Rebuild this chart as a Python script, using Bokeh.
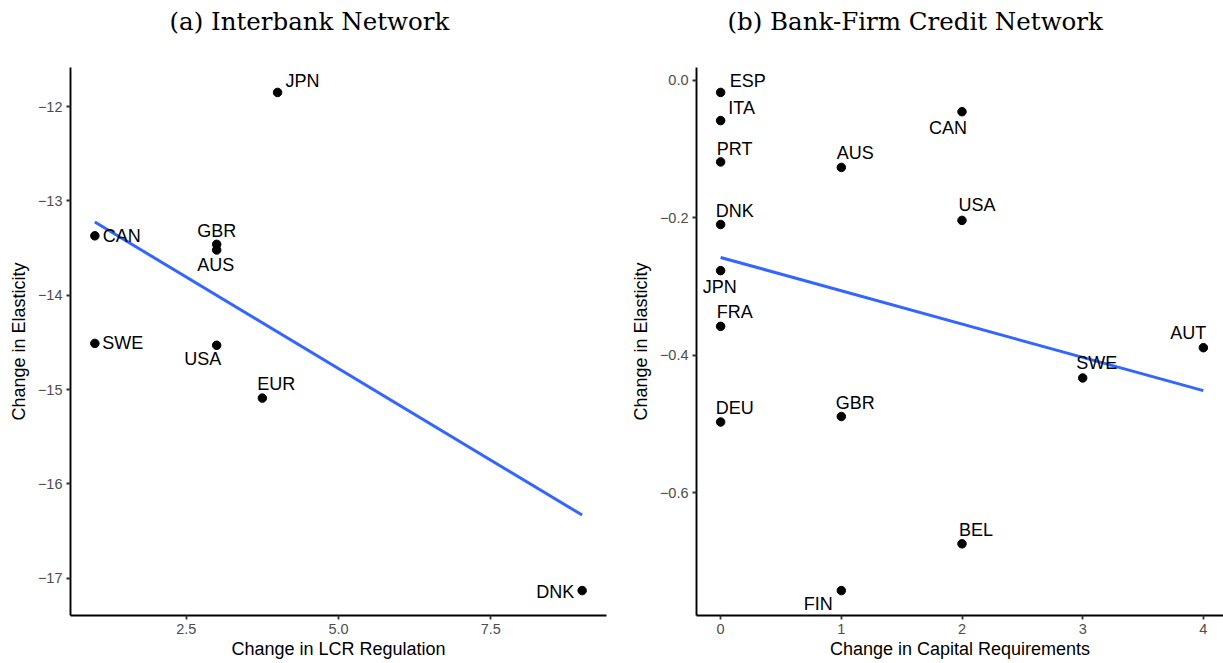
import numpy as np
from bokeh.plotting import figure
from bokeh.layouts import row
from bokeh.models import (ColumnDataSource, Range1d, FixedTicker,
                          CustomJSTickFormatter, Title)
from bokeh.embed import file_html
from bokeh.resources import INLINE
from bokeh.core.properties import value

# ---- (a) Interbank network -------------------------------------------------
ib_country = ["JPN", "CAN", "GBR", "AUS", "SWE", "USA", "EUR", "DNK"]
ib_lcr_change = [4, 1, 3, 3, 1, 3, 3.75, 9]
ib_elasticity = [-11.85, -13.37, -13.46, -13.52, -14.51, -14.53, -15.09, -17.13]

# ---- (b) Bank-firm credit network -----------------------------------------
bf_country = ["ESP", "ITA", "PRT", "AUS", "DNK", "JPN", "FRA", "CAN",
              "USA", "AUT", "SWE", "DEU", "GBR", "BEL", "FIN"]
bf_cap_change = [0, 0, 0, 1, 0, 0, 0, 2, 2, 4, 3, 0, 1, 2, 1]
bf_elasticity = [-0.018, -0.059, -0.119, -0.127, -0.210, -0.277, -0.358, -0.046,
                 -0.204, -0.389, -0.433, -0.497, -0.489, -0.674, -0.742]

# tick positions
ib_xticks = [2.5, 5.0, 7.5]
ib_yticks = [-17, -16, -15, -14, -13, -12]
bf_xticks = [0, 1, 2, 3, 4]
bf_yticks = [-0.6, -0.4, -0.2, 0.0]

# label nudges in screen pixels (dx right, dy down), repelled away from points
ib_nudge = {"JPN": (25, -11), "CAN": (27, 0), "GBR": (0, -13), "AUS": (-1, 15),
            "SWE": (28, 0), "USA": (-14, 14), "EUR": (14, -14), "DNK": (-27, 1)}
bf_nudge = {"ESP": (27, -11), "ITA": (21, -13), "PRT": (14, -13), "AUS": (14, -14),
            "DNK": (14, -14), "JPN": (-1, 16), "FRA": (14, -14), "CAN": (-14, 16),
            "USA": (15, -15), "AUT": (-15, -15), "SWE": (14, -15), "DEU": (14, -14),
            "GBR": (14, -14), "BEL": (14, -14), "FIN": (-23, 13)}

SANS = "Liberation Sans"
SERIF = "DejaVu Serif"
FIG_H = 663
TOP, BOTTOM = 67, 48


def fmt(dec):
    return CustomJSTickFormatter(
        code="return tick.toFixed(%d).replace('-', '\u2212');" % dec)


def panel(countries, xs, ys, nudge, xticks, yticks, xdec, ydec, xlabel,
          title, width, bl, br, title_offset, keep_frac=1.0):
    xs = np.asarray(xs, float)
    ys = np.asarray(ys, float)
    xpad = 0.05 * (xs.max() - xs.min())
    ypad = 0.05 * (ys.max() - ys.min())
    x0, x1 = xs.min() - xpad, xs.max() + xpad
    x1 = x0 + (x1 - x0) * keep_frac

    p = figure(width=width, height=FIG_H, output_backend="svg",
               toolbar_location=None, tools="",
               x_range=Range1d(x0, x1),
               y_range=Range1d(ys.min() - ypad, ys.max() + ypad),
               min_border_left=bl, min_border_right=br,
               min_border_top=TOP, min_border_bottom=BOTTOM)
    p.outline_line_color = None
    p.grid.visible = False
    p.background_fill_color = "white"
    p.border_fill_color = "white"

    # panel caption, with an empty spacer title between it and the frame
    p.title.text = title
    p.title.align = "left"
    p.title.offset = title_offset
    p.title.vertical_align = "middle"
    p.title.standoff = 10
    p.title.text_font = SERIF
    p.title.text_font_size = "24.5px"
    p.title.text_font_style = "normal"
    p.title.text_color = "black"
    p.add_layout(Title(text=" ", text_font_size="12px", standoff=10), "above")

    for ax in (p.xaxis[0], p.yaxis[0]):
        ax.axis_line_color = "black"
        ax.axis_line_width = 1.9
        ax.major_tick_line_color = "#333333"
        ax.major_tick_line_width = 1.8
        ax.major_tick_out = 4
        ax.major_tick_in = 0
        ax.minor_tick_line_color = None
        ax.major_label_text_font = SANS
        ax.major_label_text_font_size = "14.5px"
        ax.major_label_text_color = "#4D4D4D"
        ax.major_label_standoff = 4
        ax.axis_label_text_font = SANS
        ax.axis_label_text_font_size = "18px"
        ax.axis_label_text_font_style = "normal"
        ax.axis_label_text_color = "black"

    p.xaxis.ticker = FixedTicker(ticks=xticks)
    p.yaxis.ticker = FixedTicker(ticks=yticks)
    p.xaxis.formatter = fmt(xdec)
    p.yaxis.formatter = fmt(ydec)
    p.xaxis.axis_label = xlabel
    p.yaxis.axis_label = "Change in Elasticity"
    p.xaxis.axis_label_standoff = 2
    p.yaxis.axis_label_standoff = 6

    # least-squares fit over the observed range
    slope, icpt = np.polyfit(xs, ys, 1)
    fx = np.array([xs.min(), xs.max()])
    p.line(fx, slope * fx + icpt, line_color="#3366FF", line_width=3)

    src = ColumnDataSource(dict(
        x=xs, y=ys, label=countries,
        dx=[nudge[c][0] for c in countries],
        dy=[nudge[c][1] for c in countries]))
    p.scatter("x", "y", source=src, size=8.5, color="black")
    p.text("x", "y", text="label", source=src, x_offset="dx", y_offset="dy",
           text_align="center", text_baseline="middle",
           text_font=value(SANS), text_font_size="18px", text_color="black")
    return p


left = panel(ib_country, ib_lcr_change, ib_elasticity, ib_nudge,
             ib_xticks, ib_yticks, 1, 0, "Change in LCR Regulation",
             "(a) Interbank Network", 612, 70, 6, 99)
right = panel(bf_country, bf_cap_change, bf_elasticity, bf_nudge,
              bf_xticks, bf_yticks, 0, 1, "Change in Capital Requirements",
              "(b) Bank-Firm Credit Network", 611, 84, 0, 31,
              keep_frac=527 / 531)

layout = row(left, right)
open("out.html", "w").write(file_html(layout, INLINE))
